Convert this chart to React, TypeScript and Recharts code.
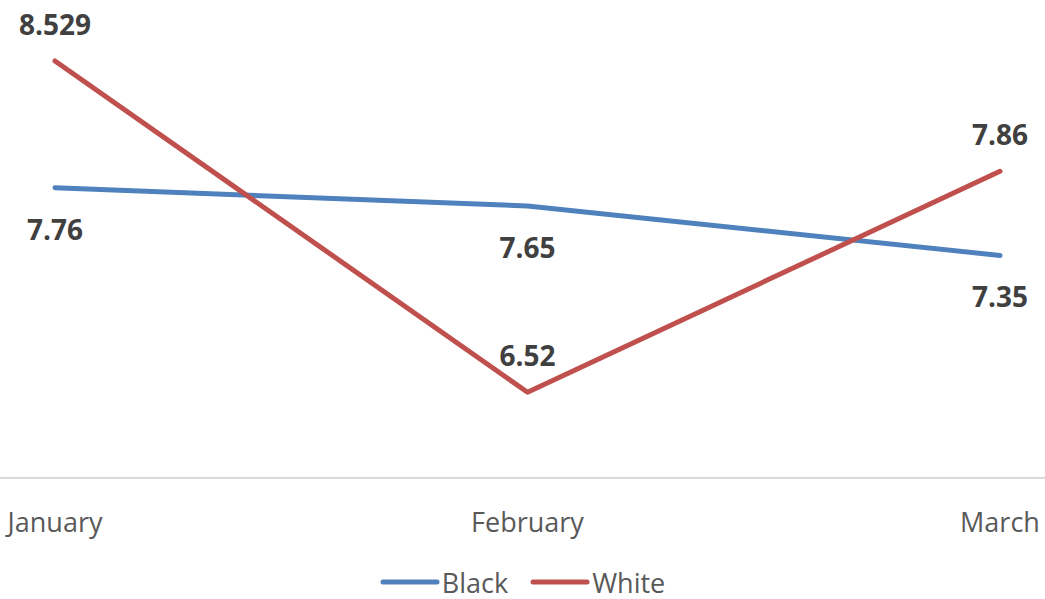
import React from "react";
import { LineChart, Line, XAxis, YAxis, Legend } from "recharts";

const categories = ["January", "February", "March"];
const blackValues = [7.76, 7.65, 7.35];
const whiteValues = [8.529, 6.52, 7.86];

const data = categories.map((c, i) => ({ month: c, Black: blackValues[i], White: whiteValues[i] }));

const BLUE = "#4F81BD";
const RED = "#C0504D";
const FONT = "'Open Sans', 'DejaVu Sans', sans-serif";

const makeLabel = (dy: number) => (p: any) => (
  <text
    key={`${p.index}-${dy}`}
    x={p.x}
    y={p.y + dy}
    textAnchor="middle"
    dominantBaseline="central"
    fontFamily={FONT}
    fontWeight={700}
    fontSize={28}
    fill="#404040"
  >
    {p.value}
  </text>
);

const Tick = (p: any) => (
  <text
    x={p.x}
    y={521}
    textAnchor="middle"
    dominantBaseline="central"
    fontFamily={FONT}
    fontSize={27}
    fill="#595959"
  >
    {p.payload.value}
  </text>
);

const LegendContent = () => (
  <div
    style={{
      height: 50,
      display: "flex",
      justifyContent: "center",
      alignItems: "center",
      paddingTop: 16,
      boxSizing: "border-box",
      fontFamily: FONT,
      fontSize: 27,
      color: "#595959",
    }}
  >
    {[
      { name: "Black", color: BLUE },
      { name: "White", color: RED },
    ].map((it, i) => (
      <div key={it.name} style={{ display: "flex", alignItems: "center", marginLeft: i ? 22 : 0 }}>
        <svg width={60} height={10} style={{ marginRight: 2 }}>
          <line x1={3} y1={5} x2={57} y2={5} stroke={it.color} strokeWidth={5} strokeLinecap="round" />
        </svg>
        <span>{it.name}</span>
      </div>
    ))}
  </div>
);

export default function App() {
  return (
    <div style={{ position: "absolute", left: 0, top: 0, width: 1045, height: 599, background: "#fff" }}>
      <LineChart width={1045} height={599} data={data} margin={{ top: 13, right: 0, left: 0, bottom: 0 }}>
        <XAxis
          dataKey="month"
          padding={{ left: 55, right: 45 }}
          axisLine={{ stroke: "#D9D9D9", strokeWidth: 2 }}
          tickLine={false}
          height={71}
          tick={<Tick />}
          interval={0}
        />
        <YAxis hide domain={[6, 8.82]} />
        <Legend verticalAlign="bottom" height={50} content={<LegendContent />} />
        <Line
          dataKey="Black"
          stroke={BLUE}
          strokeWidth={5}
          strokeLinecap="round"
          strokeLinejoin="round"
          dot={false}
          isAnimationActive={false}
          label={makeLabel(41)}
        />
        <Line
          dataKey="White"
          stroke={RED}
          strokeWidth={5}
          strokeLinecap="round"
          strokeLinejoin="round"
          dot={false}
          isAnimationActive={false}
          label={makeLabel(-37)}
        />
      </LineChart>
    </div>
  );
}
